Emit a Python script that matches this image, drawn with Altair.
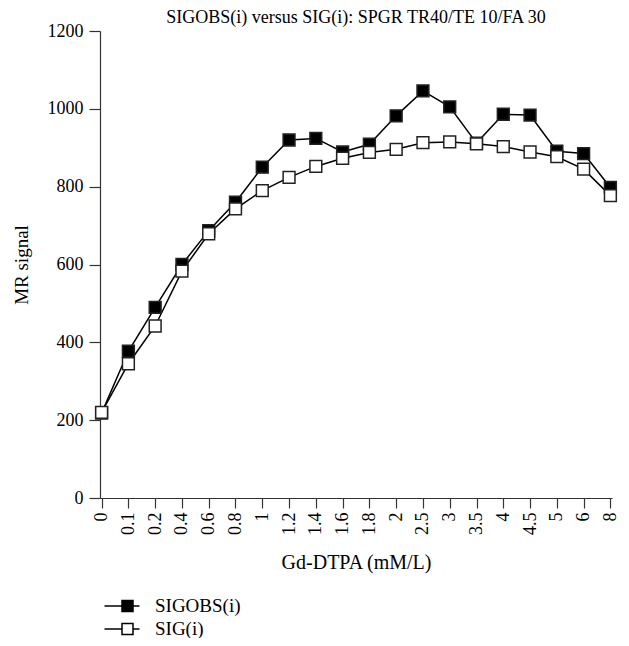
import altair as alt
import pandas as pd

conc = ["0", "0.1", "0.2", "0.4", "0.6", "0.8", "1", "1.2", "1.4", "1.6",
        "1.8", "2", "2.5", "3", "3.5", "4", "4.5", "5", "6", "8"]
sigobs = [218, 377, 490, 600, 687, 760, 850, 920, 924, 889,
          909, 982, 1046, 1005, 912, 986, 984, 891, 885, 798]
sig = [220, 345, 442, 583, 679, 743, 790, 824, 852, 873,
       888, 896, 913, 915, 910, 903, 889, 877, 845, 777]
series_names = ["SIGOBS(i)", "SIG(i)"]

rows = []
for c, a in zip(conc, sigobs):
    rows.append({"conc": c, "value": a, "series": series_names[0], "ord": 0})
for c, b in zip(conc, sig):
    rows.append({"conc": c, "value": b, "series": series_names[1], "ord": 1})
df = pd.DataFrame(rows)

FONT = "Liberation Serif"

x_enc = alt.X("conc:N", sort=conc,
              scale=alt.Scale(type="point", padding=0.06),
              axis=alt.Axis(title="Gd-DTPA (mM/L)", labelAngle=-90,
                            labelAlign="right", labelBaseline="middle",
                            tickSize=10, labelPadding=4, titlePadding=18,
                            domainColor="#333", tickColor="#333",
                            domainWidth=1.2, tickWidth=1.2,
                            labelFont=FONT, titleFont=FONT,
                            labelFontSize=18, titleFontSize=20,
                            labelColor="black", titleColor="black",
                            titleFontWeight="normal", grid=False))
y_enc = alt.Y("value:Q", scale=alt.Scale(domain=[0, 1200], nice=False),
              axis=alt.Axis(title="MR signal", values=[0, 200, 400, 600, 800, 1000, 1200],
                            format="d",
                            tickSize=11, labelPadding=6, titlePadding=16,
                            domainColor="#333", tickColor="#333",
                            domainWidth=1.2, tickWidth=1.2,
                            labelFont=FONT, titleFont=FONT,
                            labelFontSize=18, titleFontSize=19,
                            labelColor="black", titleColor="black",
                            titleFontWeight="normal", grid=False))

base = alt.Chart(df)

lines = base.mark_line(color="black", strokeWidth=1.5).encode(
    x=x_enc, y=y_enc, detail="series:N", order="ord:Q")

legend_path = "M-1.75,0H0M1.1,0H1.75M0,-0.55H1.1V0.55H0Z"

pts = base.mark_point(shape="square", size=140, filled=True, opacity=1,
                      stroke="#222", strokeWidth=1.5).encode(
    x=x_enc, y=y_enc,
    fill=alt.Fill("series:N",
                  scale=alt.Scale(domain=series_names, range=["black", "white"]),
                  legend=alt.Legend(title=None, orient="none", legendX=11, legendY=564,
                                    symbolType=legend_path, symbolSize=400,
                                    symbolStrokeColor="black", symbolStrokeWidth=1.5,
                                    labelFont=FONT, labelFontSize=19, labelColor="black",
                                    rowPadding=2, labelOffset=22)),
    order=alt.Order("ord:Q"))

chart = alt.layer(lines, pts).properties(
    width=512, height=467,
    title=alt.TitleParams("SIGOBS(i) versus SIG(i): SPGR TR40/TE 10/FA 30",
                          font=FONT, fontSize=18, fontWeight="normal",
                          color="black", anchor="middle", offset=-5),
    autosize=alt.AutoSizeParams(type="none"),
    padding={"left": 92, "top": 23, "right": 9, "bottom": 140},
).configure_view(stroke=None)

chart.save("out.html", embed_options={"renderer": "svg", "actions": False})
